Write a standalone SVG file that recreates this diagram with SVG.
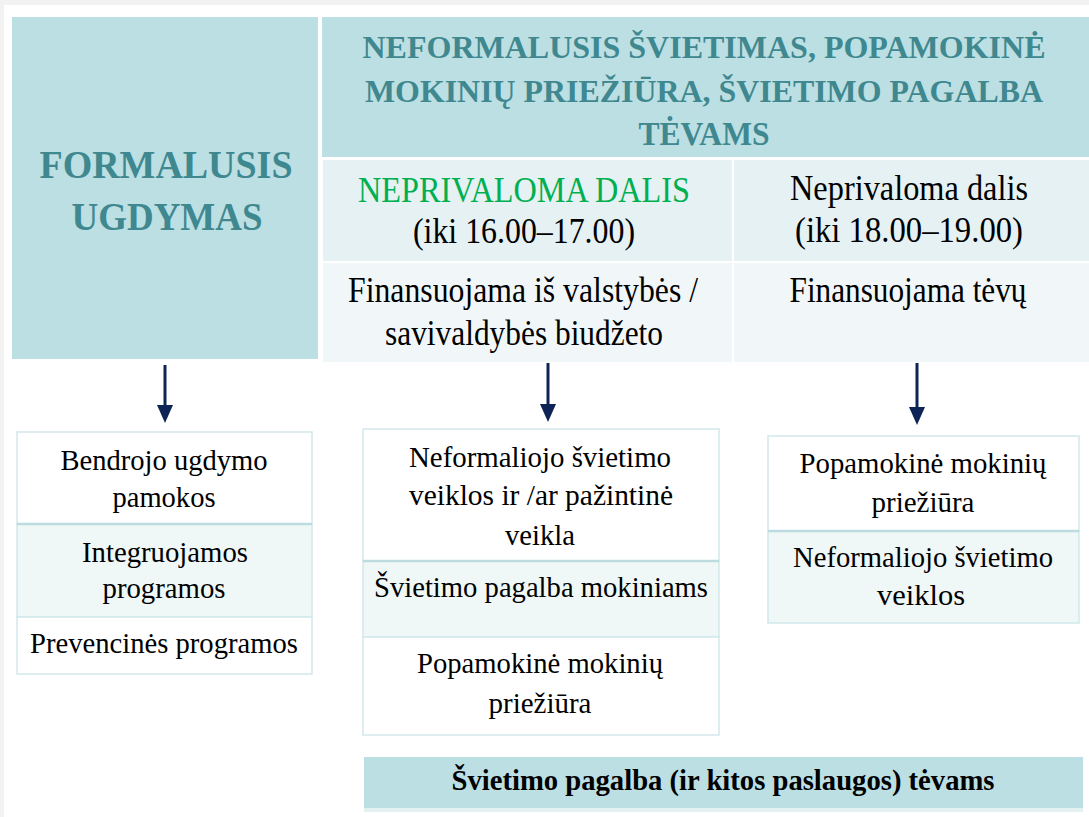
<svg xmlns="http://www.w3.org/2000/svg" width="1089" height="817" viewBox="0 0 1089 817">
<defs>
<style>
.t{font-family:"Liberation Serif","Times New Roman",serif;fill:#000;text-anchor:middle}
.h{font-family:"Liberation Serif","Times New Roman",serif;font-weight:bold;fill:#3f888f;text-anchor:middle}
.teal{fill:#bbdfe3}
.row{stroke:#d2e8eb;stroke-width:1.5}
.w{fill:#ffffff}
.l{fill:#eff7f7}
.div{stroke:#bddcdf;stroke-width:2.5}
.arr{stroke:#0e2456;stroke-width:3;fill:none}
</style>
<marker id="ah" markerUnits="userSpaceOnUse" markerWidth="18" markerHeight="16" viewBox="0 0 18 16" refX="9" refY="8" orient="auto">
<path d="M0,0 L18,8 L0,16 z" fill="#0e2456"/>
</marker>
</defs>
<rect x="0" y="0" width="1089" height="817" fill="#ffffff"/>
<rect x="0" y="0" width="1089" height="5" fill="#f2f2f2"/>
<rect x="0" y="0" width="4" height="817" fill="#f2f2f2"/>

<g id="formalusis">
<rect class="teal" x="12" y="17" width="306" height="342"/>
<text class="h" x="166" y="178" font-size="41" textLength="253" lengthAdjust="spacingAndGlyphs">FORMALUSIS</text>
<text class="h" x="167" y="230" font-size="41" textLength="191" lengthAdjust="spacingAndGlyphs">UGDYMAS</text>
</g>

<g id="header">
<rect class="teal" x="322" y="17" width="767" height="140"/>
<text class="h" x="704" y="58" font-size="32" textLength="683" lengthAdjust="spacingAndGlyphs">NEFORMALUSIS ŠVIETIMAS, POPAMOKINĖ</text>
<text class="h" x="704" y="102" font-size="32" textLength="678" lengthAdjust="spacingAndGlyphs">MOKINIŲ PRIEŽIŪRA, ŠVIETIMO PAGALBA</text>
<text class="h" x="704" y="145" font-size="34" textLength="131" lengthAdjust="spacingAndGlyphs">TĖVAMS</text>
</g>

<g id="neprivaloma-1">
<rect x="323" y="160" width="409" height="101" fill="#e5f1f3"/>
<text class="t" x="524" y="202" font-size="35" style="fill:#00b050" textLength="332" lengthAdjust="spacingAndGlyphs">NEPRIVALOMA DALIS</text>
<text class="t" x="524" y="243" font-size="35" textLength="222" lengthAdjust="spacingAndGlyphs">(iki 16.00–17.00)</text>
</g>

<g id="finansuojama-1">
<rect x="323" y="263" width="409" height="99" fill="#f1f7f9"/>
<text class="t" x="523" y="302" font-size="35" textLength="350" lengthAdjust="spacingAndGlyphs">Finansuojama iš valstybės /</text>
<text class="t" x="524" y="345" font-size="35" textLength="278" lengthAdjust="spacingAndGlyphs">savivaldybės biudžeto</text>
</g>

<g id="neprivaloma-2">
<rect x="734" y="160" width="355" height="101" fill="#e5f1f3"/>
<text class="t" x="909" y="200" font-size="35" textLength="238" lengthAdjust="spacingAndGlyphs">Neprivaloma dalis</text>
<text class="t" x="909" y="242" font-size="35" textLength="228" lengthAdjust="spacingAndGlyphs">(iki 18.00–19.00)</text>
</g>

<g id="finansuojama-2">
<rect x="734" y="263" width="355" height="99" fill="#f1f7f9"/>
<text class="t" x="908" y="302" font-size="35" textLength="237" lengthAdjust="spacingAndGlyphs">Finansuojama tėvų</text>
</g>

<g id="connectors">
<line class="arr" x1="165" y1="365" x2="165" y2="414" marker-end="url(#ah)"/>
<line class="arr" x1="548" y1="363" x2="548" y2="413" marker-end="url(#ah)"/>
<line class="arr" x1="917" y1="363" x2="917" y2="416" marker-end="url(#ah)"/>
</g>

<g id="formal-list">
<rect class="row w" x="17" y="432" width="295" height="92"/>
<rect class="row l" x="17" y="524" width="295" height="93"/>
<rect class="row w" x="17" y="617" width="295" height="57"/>
<line class="div" x1="17" y1="524" x2="312" y2="524"/>
<text class="t" x="164" y="470" font-size="30" textLength="207" lengthAdjust="spacingAndGlyphs">Bendrojo ugdymo</text>
<text class="t" x="164" y="507" font-size="30" textLength="103" lengthAdjust="spacingAndGlyphs">pamokos</text>
<text class="t" x="165" y="562" font-size="30" textLength="166" lengthAdjust="spacingAndGlyphs">Integruojamos</text>
<text class="t" x="164" y="598" font-size="30" textLength="123" lengthAdjust="spacingAndGlyphs">programos</text>
<text class="t" x="164" y="653" font-size="30" textLength="268" lengthAdjust="spacingAndGlyphs">Prevencinės programos</text>
</g>

<g id="mid-list">
<rect class="row w" x="363" y="429" width="356" height="132"/>
<rect class="row l" x="363" y="561" width="356" height="76"/>
<rect class="row w" x="363" y="637" width="356" height="98"/>
<line class="div" x1="363" y1="561" x2="719" y2="561"/>
<text class="t" x="540" y="467" font-size="30" textLength="262" lengthAdjust="spacingAndGlyphs">Neformaliojo švietimo</text>
<text class="t" x="541" y="505" font-size="30" textLength="264" lengthAdjust="spacingAndGlyphs">veiklos ir /ar  pažintinė</text>
<text class="t" x="540" y="545" font-size="30" textLength="70" lengthAdjust="spacingAndGlyphs">veikla</text>
<text class="t" x="541" y="597" font-size="30" textLength="334" lengthAdjust="spacingAndGlyphs">Švietimo pagalba mokiniams</text>
<text class="t" x="540" y="673" font-size="30" textLength="246" lengthAdjust="spacingAndGlyphs">Popamokinė mokinių</text>
<text class="t" x="540" y="713" font-size="30" textLength="103" lengthAdjust="spacingAndGlyphs">priežiūra</text>
</g>

<g id="right-list">
<rect class="row w" x="768" y="436" width="311" height="95"/>
<rect class="row l" x="768" y="531" width="311" height="92"/>
<line class="div" x1="768" y1="531" x2="1079" y2="531"/>
<text class="t" x="923" y="473" font-size="30" textLength="247" lengthAdjust="spacingAndGlyphs">Popamokinė mokinių</text>
<text class="t" x="923" y="512" font-size="30" textLength="103" lengthAdjust="spacingAndGlyphs">priežiūra</text>
<text class="t" x="923" y="567" font-size="30" textLength="260" lengthAdjust="spacingAndGlyphs">Neformaliojo švietimo</text>
<text class="t" x="921" y="605" font-size="30" textLength="88" lengthAdjust="spacingAndGlyphs">veiklos</text>
</g>

<g id="tevams">
<rect class="teal" x="364" y="757" width="719" height="51"/>
<rect x="364" y="808" width="719" height="4" fill="#e3f1f3"/>
<text class="t" x="723" y="790" font-size="29" font-weight="bold" textLength="543" lengthAdjust="spacingAndGlyphs">Švietimo pagalba (ir kitos paslaugos) tėvams</text>
</g>
</svg>
